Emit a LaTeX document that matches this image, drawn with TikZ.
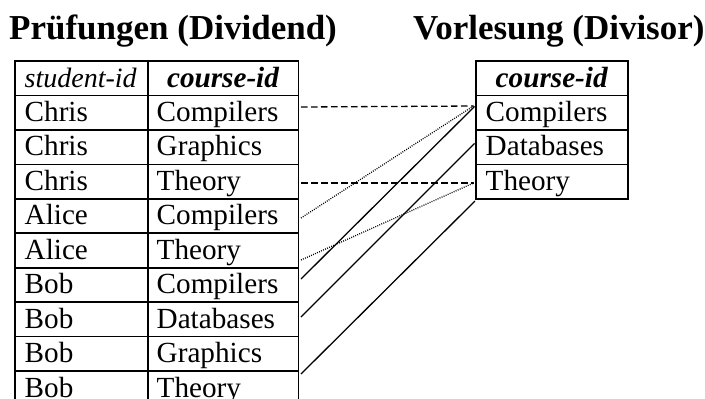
\documentclass[tikz,border=0pt]{standalone}
\usepackage{fontspec}
\setmainfont{Liberation Serif}
\begin{document}
\begin{tikzpicture}[x=1pt,y=-1pt,
  cell/.style={draw, line width=1.6pt, anchor=north west, inner ysep=0pt, outer sep=0pt,
    text height=26pt, text depth=8.45pt, font=\fontsize{29.2}{30}\selectfont, align=left},
  lc1/.style={cell, inner xsep=10pt, text width=113pt},
  lc2/.style={cell, inner xsep=9pt, text width=132.6pt},
  rc/.style={cell, inner xsep=10pt, text width=132pt},
  hd/.style={align=center},
  title/.style={anchor=base west, inner sep=0pt, font=\fontsize{35}{40}\selectfont\bfseries},
  dashline/.style={line width=1.3pt, dash pattern=on 6.5pt off 3.5pt},
  dotline/.style={line width=1.3pt, dash pattern=on 0.9pt off 1.3pt},
  solidline/.style={line width=1.3pt}]
\clip (0,0) rectangle (705,399);
\node[title] (t1) at (9,39.3) {Prüfungen (Dividend)};
\node[title] (t2) at (413,39.3) {Vorlesung (Divisor)};
% left table
\def\rh{34.45}
\node[lc1] (h1) at (14.7,61) {\mbox{\fontsize{28}{30}\selectfont\itshape student-id}};
\node[lc2,hd] (h2) at (147.7,61) {\bfseries\itshape course-id};
\foreach \s/\c [count=\i] in {Chris/Compilers,Chris/Graphics,Chris/Theory,Alice/Compilers,Alice/Theory,Bob/Compilers,Bob/Databases,Bob/Graphics,Bob/Theory}{
  \node[lc1] (a\i) at (14.7,61+\i*\rh) {\s};
  \node[lc2] (b\i) at (147.7,61+\i*\rh) {\c};
}
% right table
\node[rc,hd] (rh) at (475.7,61) {\bfseries\itshape course-id};
\foreach \c [count=\i] in {Compilers,Databases,Theory}{
  \node[rc] (r\i) at (475.7,61+\i*\rh) {\c};
}
% connector endpoints
\coordinate (p1) at (301,107);
\coordinate (p2) at (301,183);
\coordinate (p3) at (301,218);
\coordinate (p4) at (301,260);
\coordinate (p5) at (301,279);
\coordinate (p6) at (301,317);
\coordinate (p7) at (301,374);
\coordinate (q1) at (473.5,106);
\coordinate (q2) at (473.5,183);
\coordinate (q3) at (474.5,106.5);
\coordinate (q4) at (474.5,143.5);
\coordinate (q5) at (475,201);
\draw[dashline] (p1) -- (q1);
\draw[dashline] (p2) -- (q2);
\draw[dotline] (p3) -- (q1);
\draw[dotline] (p4) -- (q2);
\draw[solidline] (p5) -- (q3);
\draw[solidline] (p6) -- (q4);
\draw[solidline] (p7) -- (q5);
\end{tikzpicture}
\end{document}
